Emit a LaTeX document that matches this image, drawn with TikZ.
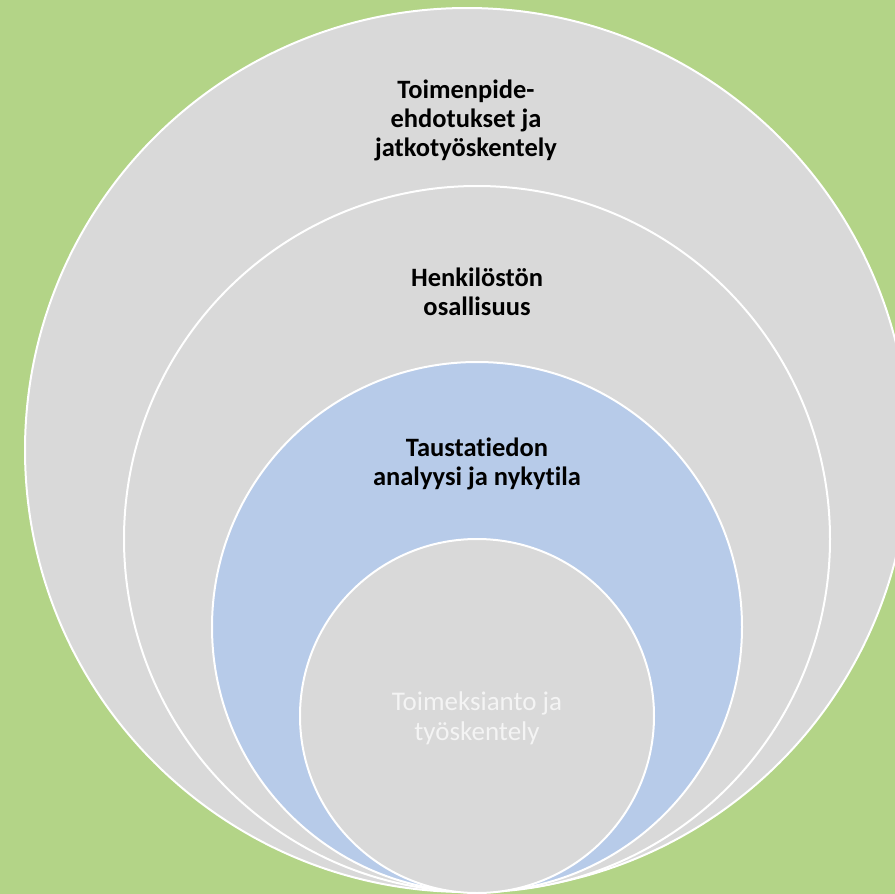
\documentclass[tikz,border=0pt]{standalone}
\usepackage{fontspec}
\setmainfont{Carlito}[Ligatures={NoCommon,NoRare,NoContextual}]
\definecolor{bggreen}{HTML}{B3D487}
\definecolor{ringgray}{HTML}{D9D9D9}
\definecolor{ringblue}{HTML}{B7CBE9}
\definecolor{softwhite}{HTML}{F4F4F4}
\tikzset{
  ring/.style={circle, draw=white, line width=2pt, inner sep=0pt, outer sep=0pt},
  boldlabel/.style={align=center, font=\fontsize{26.5}{29}\selectfont\bfseries, text=black, inner sep=0pt},
  lightlabel/.style={align=center, font=\fontsize{27}{30}\selectfont, text=softwhite, inner sep=0pt}
}
\begin{document}
\begin{tikzpicture}[x=1pt, y=-1pt]
\fill[bggreen] (0,0) rectangle (895,894);
\useasboundingbox (0,0) rectangle (895,894);
\clip (0,0) rectangle (895,894);
\node[ring, fill=ringgray, minimum size=884pt] (c1) at (467,450) {};
\node[ring, fill=ringgray, minimum size=706pt] (c2) at (477,539) {};
\node[ring, fill=ringblue, minimum size=530pt] (c3) at (477,627) {};
\node[ring, fill=ringgray, minimum size=354pt] (c4) at (477,716) {};
\node[boldlabel] (t1) at (466,120) {Toimenpide-\\ehdotukset ja\\jatkotyöskentely};
\node[boldlabel] (t2) at (477,292) {Henkilöstön\\osallisuus};
\node[boldlabel] (t3) at (477,464) {Taustatiedon\\analyysi ja nykytila};
\node[lightlabel] (t4) at (477,718) {Toimeksianto ja\\työskentely};
\end{tikzpicture}
\end{document}
